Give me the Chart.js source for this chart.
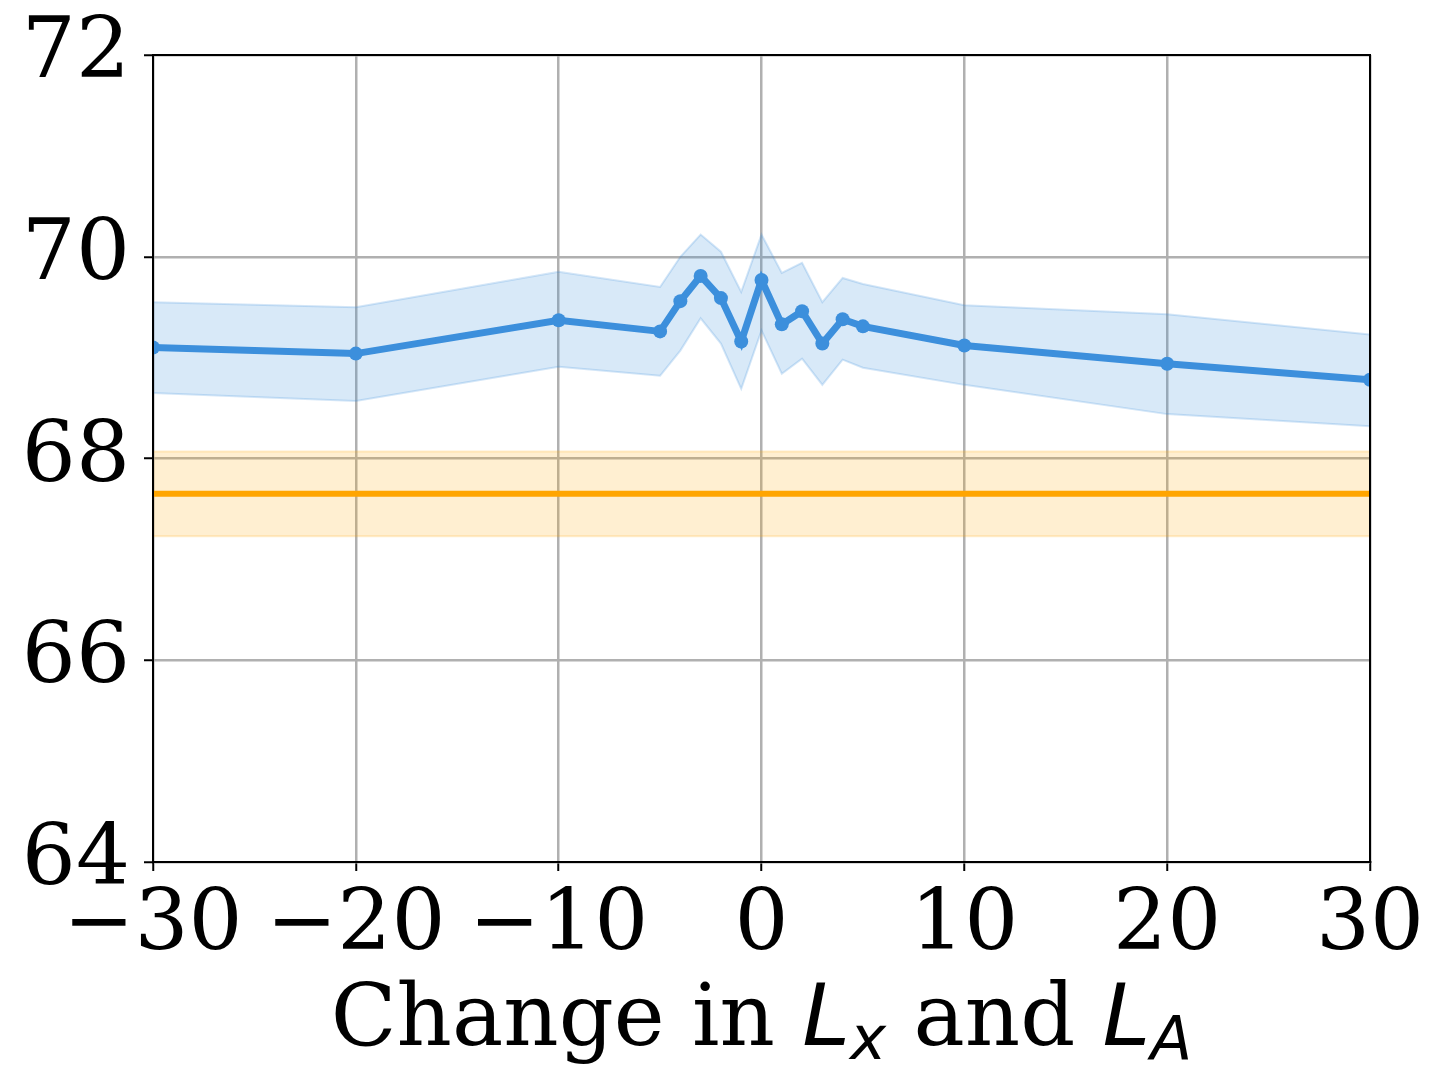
<!DOCTYPE html>
<html>
<head>
<meta charset="utf-8">
<script src="https://cdn.jsdelivr.net/npm/chart.js@4"></script>
<style>
  html, body { margin: 0; padding: 0; background: #fff; }
  #wrap { width: 1447px; height: 1092px; }
</style>
</head>
<body>
<div id="wrap"><canvas id="c"></canvas></div>
<script>
const xs = [-30, -20, -10, -5, -4, -3, -2, -1, 0, 1, 2, 3, 4, 5, 10, 20, 30];
const meanVals = [69.10, 69.04, 69.37, 69.26, 69.56, 69.81, 69.59, 69.16, 69.77, 69.33, 69.46, 69.14, 69.38, 69.31, 69.12, 68.94, 68.78];
const upperVals = [69.55, 69.50, 69.85, 69.70, 70.00, 70.22, 70.05, 69.65, 70.22, 69.84, 69.94, 69.55, 69.79, 69.73, 69.52, 69.43, 69.23];
const lowerVals = [68.65, 68.57, 68.91, 68.82, 69.07, 69.39, 69.14, 68.69, 69.27, 68.84, 68.99, 68.73, 68.98, 68.90, 68.73, 68.44, 68.32];
const baseMean = 67.65;
const baseUpper = 68.07;
const baseLower = 67.23;
const xTicks = [-30, -20, -10, 0, 10, 20, 30];
const yTicks = [64, 66, 68, 70, 72];

const pts = vals => xs.map((x, i) => ({ x, y: vals[i] }));
const flat = v => xs.map(x => ({ x, y: v }));

const blue = 'rgb(61,143,220)';
const blueFill = 'rgba(61,143,220,0.2)';
const blueEdge = 'rgba(61,143,220,0.22)';
const orange = 'rgb(255,165,0)';
const orangeFill = 'rgba(255,165,0,0.18)';
const orangeEdge = 'rgba(255,165,0,0.2)';

const tickFont = { family: 'DejaVu Serif', size: 85 };

// box round the plot + x axis title with italic parts
const framePlugin = {
  id: 'frame',
  afterDraw(chart) {
    const { ctx, chartArea: a } = chart;
    ctx.save();
    ctx.strokeStyle = '#000';
    ctx.lineWidth = 2;
    ctx.strokeRect(a.left, a.top, a.right - a.left, a.bottom - a.top);

    const parts = [
      { t: 'Change in ', f: '86px "DejaVu Serif"', dy: 0 },
      { t: 'L', f: 'italic 86px "DejaVu Sans"', dy: 0 },
      { t: 'x', f: 'italic 61px "DejaVu Sans"', dy: 14 },
      { t: ' and ', f: '86px "DejaVu Serif"', dy: 0 },
      { t: 'L', f: 'italic 86px "DejaVu Sans"', dy: 0 },
      { t: 'A', f: 'italic 61px "DejaVu Sans"', dy: 14 }
    ];
    let total = 0;
    parts.forEach(p => { ctx.font = p.f; p.w = ctx.measureText(p.t).width; total += p.w; });
    let x = (a.left + a.right) / 2 - total / 2;
    const base = 1045;
    ctx.fillStyle = '#000';
    ctx.textBaseline = 'alphabetic';
    ctx.textAlign = 'left';
    parts.forEach(p => { ctx.font = p.f; ctx.fillText(p.t, x, base + p.dy); x += p.w; });
    ctx.restore();
  }
};

new Chart(document.getElementById('c'), {
  type: 'line',
  data: {
    datasets: [
      { data: pts(upperVals), borderColor: blueEdge, borderWidth: 2, backgroundColor: blueFill, fill: '+1', pointRadius: 0, tension: 0 },
      { data: pts(lowerVals), borderColor: blueEdge, borderWidth: 2, fill: false, pointRadius: 0, tension: 0 },
      { data: flat(baseUpper), borderColor: orangeEdge, borderWidth: 2, backgroundColor: orangeFill, fill: '+1', pointRadius: 0 },
      { data: flat(baseLower), borderColor: orangeEdge, borderWidth: 2, fill: false, pointRadius: 0 },
      { data: flat(baseMean), borderColor: orange, borderWidth: 6, fill: false, pointRadius: 0 },
      { data: pts(meanVals), borderColor: blue, backgroundColor: blue, borderWidth: 7, fill: false,
        pointRadius: 7, pointBorderWidth: 0, tension: 0 }
    ]
  },
  options: {
    responsive: true,
    maintainAspectRatio: false,
    animation: false,
    devicePixelRatio: 1,
    layout: { padding: { top: 55, right: 77, left: 0, bottom: 0 } },
    plugins: { legend: { display: false }, tooltip: { enabled: false } },
    scales: {
      x: {
        type: 'linear',
        min: -30, max: 30,
        afterFit: s => { s.height = 230; s.paddingLeft = 0; s.paddingRight = 0; },
        afterBuildTicks: s => { s.ticks = xTicks.map(v => ({ value: v })); },
        ticks: {
          font: tickFont, color: '#000', padding: 5, maxRotation: 0, autoSkip: false,
          callback: v => (v < 0 ? '\u2212' + Math.abs(v) : String(v))
        },
        grid: { color: '#b0b0b0', lineWidth: 2.5, tickLength: 9, tickColor: '#000', tickWidth: 2 },
        border: { color: '#000', width: 2 }
      },
      y: {
        min: 64, max: 72,
        afterFit: s => { s.width = 153; s.paddingTop = 0; s.paddingBottom = 0; },
        afterBuildTicks: s => { s.ticks = yTicks.map(v => ({ value: v })); },
        ticks: { font: tickFont, color: '#000', padding: 14, autoSkip: false },
        grid: { color: '#b0b0b0', lineWidth: 2.5, tickLength: 9, tickColor: '#000', tickWidth: 2 },
        border: { color: '#000', width: 2 }
      }
    }
  },
  plugins: [framePlugin]
});
</script>
</body>
</html>
